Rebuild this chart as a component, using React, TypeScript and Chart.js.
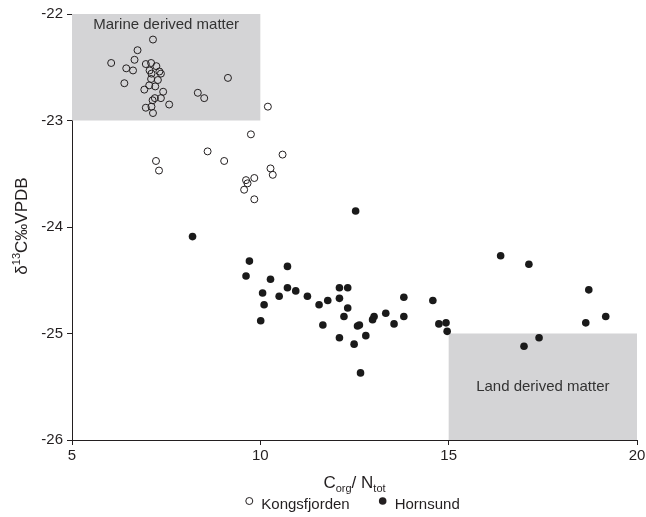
import React, { useEffect, useRef } from "react";
import { Chart, registerables } from "chart.js";

Chart.register(...registerables);

const seriesNames = ["Kongsfjorden", "Hornsund"];

const kongX = [
  6.04, 6.39, 6.44, 6.62, 6.66, 6.74, 7.15, 6.92, 6.96, 6.96, 7.06, 7.1, 7.11, 7.1, 7.05,
  7.11, 7.15, 7.14, 7.2, 7.21, 7.24, 7.28, 7.32, 7.36, 7.42, 7.36, 7.58, 8.34, 8.51, 9.14,
  10.2, 9.75, 8.6, 9.04, 10.59, 10.27, 10.33, 9.62, 9.66, 9.84, 9.57, 9.84, 7.23, 7.31,
];
const kongY = [
  -22.46, -22.65, -22.51, -22.53, -22.43, -22.34, -22.24, -22.71, -22.47, -22.88, -22.53,
  -22.46, -22.56, -22.61, -22.67, -22.87, -22.93, -22.81, -22.79, -22.68, -22.49, -22.62,
  -22.54, -22.56, -22.73, -22.79, -22.85, -22.74, -22.79, -22.6, -22.87, -23.13, -23.29,
  -23.38, -23.32, -23.45, -23.51, -23.56, -23.59, -23.54, -23.65, -23.74, -23.38, -23.47,
];

const hornX = [
  12.53, 8.2, 9.71, 9.62, 10.72, 10.27, 10.06, 10.1, 10.01, 10.5, 10.72, 10.94, 11.25,
  11.56, 11.79, 11.66, 12.1, 12.32, 12.1, 12.32, 12.22, 12.1, 12.58, 12.63, 12.8, 12.49,
  12.98, 13.02, 12.66, 13.33, 13.55, 13.81, 13.81, 14.58, 14.74, 14.93, 14.96, 16.38,
  17.13, 17.0, 17.4, 18.72, 18.64, 19.17,
];
const hornY = [
  -23.85, -24.09, -24.32, -24.46, -24.37, -24.49, -24.62, -24.73, -24.88, -24.65, -24.57,
  -24.6, -24.65, -24.73, -24.69, -24.92, -24.57, -24.57, -24.67, -24.76, -24.84, -25.04,
  -24.93, -24.92, -25.02, -25.1, -24.87, -24.84, -25.37, -24.81, -24.91, -24.66, -24.84,
  -24.69, -24.91, -24.9, -24.98, -24.27, -24.35, -25.12, -25.04, -24.59, -24.9, -24.84,
];

const xTicks = [5, 10, 15, 20];
const yTicks = [-26, -25, -24, -23, -22];

const zoneLabels = ["Marine derived matter", "Land derived matter"];
const zoneXMin = [5, 15];
const zoneXMax = [10, 20];
const zoneYMin = [-23, -26];
const zoneYMax = [-22, -25];

const FONT = "'Liberation Sans', Arial, Helvetica, sans-serif";
const INK = "#231f20";
const SHADE = "#d4d4d6";

const zonesPlugin = {
  id: "zones",
  beforeDatasetsDraw(chart: any) {
    const { ctx, scales } = chart;
    const xs = scales.x;
    const ys = scales.y;
    ctx.save();
    zoneLabels.forEach((label, i) => {
      const x0 = xs.getPixelForValue(zoneXMin[i]);
      const x1 = xs.getPixelForValue(zoneXMax[i]);
      const y0 = ys.getPixelForValue(zoneYMax[i]);
      const y1 = ys.getPixelForValue(zoneYMin[i]);
      ctx.fillStyle = SHADE;
      ctx.fillRect(x0, y0, x1 - x0, y1 - y0);
      ctx.fillStyle = "#333";
      ctx.font = `15px ${FONT}`;
      ctx.textAlign = "center";
      ctx.textBaseline = "middle";
      const ty = i === 0 ? y0 + 11 : (y0 + y1) / 2;
      ctx.fillText(label, (x0 + x1) / 2, ty);
    });
    ctx.restore();
  },
};

const titlesPlugin = {
  id: "titles",
  afterDraw(chart: any) {
    const { ctx, chartArea } = chart;
    ctx.save();
    ctx.fillStyle = INK;
    ctx.textBaseline = "alphabetic";
    ctx.textAlign = "left";

    // Y axis title: δ13C‰VPDB (rotated)
    const yParts: [string, number, number][] = [
      ["δ", 17, 0],
      ["13", 11, -7],
      ["C‰VPDB", 17, 0],
    ];
    let total = 0;
    yParts.forEach(([t, s]) => {
      ctx.font = `${s}px ${FONT}`;
      total += ctx.measureText(t).width;
    });
    ctx.translate(27, 226);
    ctx.rotate(-Math.PI / 2);
    let cx = -total / 2;
    yParts.forEach(([t, s, dy]) => {
      ctx.font = `${s}px ${FONT}`;
      ctx.fillText(t, cx, dy);
      cx += ctx.measureText(t).width;
    });
    ctx.setTransform(1, 0, 0, 1, 0, 0);

    // X axis title: Corg / Ntot
    const xParts: [string, number, number][] = [
      ["C", 17, 0],
      ["org", 11, 4],
      ["/ ", 17, 0],
      ["N", 17, 0],
      ["tot", 11, 4],
    ];
    total = 0;
    xParts.forEach(([t, s]) => {
      ctx.font = `${s}px ${FONT}`;
      total += ctx.measureText(t).width;
    });
    cx = (chartArea.left + chartArea.right) / 2 - total / 2;
    const base = 488;
    xParts.forEach(([t, s, dy]) => {
      ctx.font = `${s}px ${FONT}`;
      ctx.fillText(t, cx, base + dy);
      cx += ctx.measureText(t).width;
    });

    // Legend
    ctx.font = `15px ${FONT}`;
    ctx.textBaseline = "middle";
    const r = 3.5;
    const gapText = 12;
    const gapItem = 33;
    const w0 = ctx.measureText(seriesNames[0]).width;
    const w1 = ctx.measureText(seriesNames[1]).width;
    const totalL = r + gapText + w0 + gapItem + gapText + w1 + r;
    let lx = (chartArea.left + chartArea.right) / 2 - totalL / 2 + r;
    const ly = 505;
    const my = 501;
    ctx.beginPath();
    ctx.arc(lx, my, r, 0, Math.PI * 2);
    ctx.fillStyle = "#fff";
    ctx.fill();
    ctx.lineWidth = 1;
    ctx.strokeStyle = INK;
    ctx.stroke();
    ctx.fillStyle = INK;
    ctx.fillText(seriesNames[0], lx + gapText, ly);
    lx = lx + gapText + w0 + gapItem;
    ctx.beginPath();
    ctx.arc(lx, my, r + 0.3, 0, Math.PI * 2);
    ctx.fillStyle = INK;
    ctx.fill();
    ctx.fillText(seriesNames[1], lx + gapText, ly);
    ctx.restore();
  },
};

export default function App() {
  const canvasRef = useRef<HTMLCanvasElement | null>(null);

  useEffect(() => {
    if (!canvasRef.current) return;
    const chart = new Chart(canvasRef.current, {
      type: "scatter",
      data: {
        datasets: [
          {
            label: seriesNames[0],
            data: kongX.map((x, i) => ({ x, y: kongY[i] })),
            pointRadius: 3.5,
            pointBorderWidth: 1,
            pointBackgroundColor: "rgba(255,255,255,0)",
            pointBorderColor: INK,
            backgroundColor: "#fff",
            borderColor: INK,
          },
          {
            label: seriesNames[1],
            data: hornX.map((x, i) => ({ x, y: hornY[i] })),
            pointRadius: 3.8,
            pointBorderWidth: 0,
            pointBackgroundColor: "#1a1a1a",
            pointBorderColor: "#1a1a1a",
            backgroundColor: "#1a1a1a",
            borderColor: "#1a1a1a",
          },
        ],
      },
      options: {
        animation: false,
        responsive: false,
        maintainAspectRatio: false,
        layout: { padding: { top: 14, right: 9, left: 0, bottom: 0 } },
        plugins: {
          legend: { display: false },
          tooltip: { enabled: false },
        },
        scales: {
          x: {
            type: "linear",
            min: 5,
            max: 20,
            afterBuildTicks: (scale: any) => {
              scale.ticks = xTicks.map((v) => ({ value: v }));
            },
            afterFit: (scale: any) => {
              scale.height = 77;
              scale.paddingRight = 0;
              scale.paddingLeft = 0;
            },
            ticks: {
              color: INK,
              font: { family: FONT, size: 15 },
              padding: 2,
              maxRotation: 0,
            },
            grid: {
              display: true,
              drawOnChartArea: false,
              drawTicks: true,
              tickLength: 5,
              color: INK,
            },
            border: { display: true, color: INK, width: 1 },
            title: { display: false },
          },
          y: {
            type: "linear",
            min: -26,
            max: -22,
            afterBuildTicks: (scale: any) => {
              scale.ticks = yTicks.map((v) => ({ value: v }));
            },
            afterFit: (scale: any) => {
              scale.width = 72;
              scale.paddingTop = 0;
              scale.paddingBottom = 0;
            },
            ticks: {
              color: INK,
              font: { family: FONT, size: 15 },
              padding: 4,
            },
            grid: {
              display: true,
              drawOnChartArea: false,
              drawTicks: true,
              tickLength: 5,
              color: INK,
            },
            border: { display: true, color: INK, width: 1 },
            title: { display: false },
          },
        },
      },
      plugins: [zonesPlugin, titlesPlugin],
    });
    return () => chart.destroy();
  }, []);

  return (
    <div style={{ position: "absolute", left: 0, top: 0, width: 646, height: 517 }}>
      <canvas ref={canvasRef} width={646} height={517} style={{ display: "block" }} />
    </div>
  );
}
